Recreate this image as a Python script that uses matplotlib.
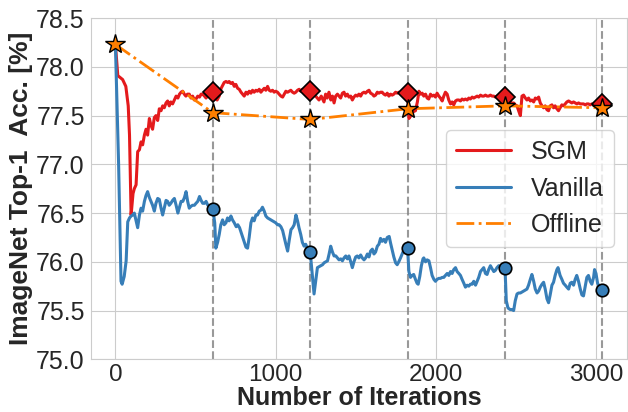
import matplotlib
matplotlib.use("Agg")
import matplotlib.pyplot as plt
import seaborn as sns

# checkpoints (end of each stage)
stages = [608, 1216, 1824, 2432, 3040]

# SGM accuracy curve (iteration, acc)
sgm_it = [0, 15, 45, 65, 80, 88, 98, 110, 118, 129, 135, 139, 150, 160, 170, 181, 191, 201, 212, 222,
          232, 243, 253, 264, 274, 285, 295, 305, 316, 326, 336, 346, 357, 368, 379, 390, 400, 410, 420, 430,
          440, 450, 461, 472, 482, 493, 503, 514, 525, 535, 545, 556, 566, 577, 587, 597, 608,
          620, 635, 648, 660, 679, 690, 700, 710, 720, 731, 742, 752, 763, 773, 784, 794, 804, 815, 825,
          835, 846, 856, 866, 877, 887, 898, 908, 918, 929, 939, 950, 960, 970, 981, 991, 1001, 1012, 1022,
          1033, 1044, 1054, 1064, 1075, 1085, 1095, 1106, 1116, 1126, 1137, 1147, 1157, 1167, 1178, 1188,
          1198, 1216,
          1230, 1250, 1271, 1285, 1302, 1312, 1322, 1333, 1345, 1355, 1365, 1375, 1386, 1396, 1406, 1417,
          1427, 1437, 1448, 1458, 1469, 1479, 1489, 1500, 1510, 1520, 1531, 1541, 1552, 1562, 1573, 1583,
          1593, 1604, 1614, 1624, 1635, 1645, 1655, 1665, 1676, 1686, 1697, 1707, 1718, 1728, 1738, 1749,
          1759, 1769, 1780, 1790, 1800, 1811, 1824,
          1832, 1845, 1860, 1873, 1885, 1895, 1905, 1915, 1925, 1936, 1946, 1956, 1967, 1977, 1988, 1998,
          2008, 2019, 2029, 2040, 2050, 2060, 2071, 2081, 2092, 2102, 2112, 2123, 2133, 2144, 2154, 2164,
          2175, 2185, 2196, 2206, 2216, 2227, 2237, 2248, 2258, 2268, 2279, 2289, 2300, 2310, 2320, 2330,
          2341, 2351, 2362, 2372, 2382, 2393, 2403, 2414, 2432,
          2445, 2455, 2465, 2475, 2486, 2496, 2507, 2517, 2528, 2538, 2548, 2559, 2569, 2579, 2590, 2600,
          2611, 2621, 2632, 2642, 2652, 2663, 2673, 2683, 2694, 2704, 2714, 2725, 2735, 2745, 2756, 2766,
          2776, 2787, 2797, 2808, 2818, 2829, 2839, 2849, 2860, 2870, 2881, 2891, 2902, 2912, 2922, 2933,
          2943, 2953, 2964, 2974, 2985, 2995, 3005, 3016, 3040]
sgm_acc = [78.23, 77.91, 77.87, 77.80, 77.60, 77.30, 76.48, 76.70, 76.75, 76.79, 77.00, 77.13, 77.15, 77.23,
           77.20, 77.30, 77.36, 77.30, 77.47, 77.40, 77.36, 77.48, 77.50, 77.45, 77.57, 77.55, 77.60, 77.58,
           77.63, 77.65, 77.60, 77.64, 77.62, 77.66, 77.70, 77.68, 77.72, 77.74, 77.75, 77.72, 77.70, 77.72,
           77.72, 77.68, 77.70, 77.66, 77.67, 77.70, 77.69, 77.72, 77.72, 77.70, 77.68, 77.71, 77.70, 77.73,
           77.74,
           77.68, 77.66, 77.70, 77.78, 77.84, 77.85, 77.84, 77.85, 77.83, 77.84, 77.80, 77.82, 77.78, 77.77,
           77.74, 77.72, 77.70, 77.74, 77.72, 77.75, 77.73, 77.76, 77.74, 77.76, 77.75, 77.77, 77.74, 77.76,
           77.78, 77.76, 77.80, 77.76, 77.75, 77.76, 77.74, 77.75, 77.74, 77.72, 77.70, 77.69, 77.72, 77.75,
           77.74, 77.75, 77.76, 77.74, 77.73, 77.74, 77.76, 77.77, 77.75, 77.77, 77.76, 77.75, 77.74, 77.75,
           77.72, 77.70, 77.66, 77.70, 77.64, 77.72, 77.68, 77.74, 77.66, 77.70, 77.63, 77.70, 77.72, 77.70,
           77.68, 77.73, 77.74, 77.70, 77.72, 77.69, 77.70, 77.66, 77.69, 77.71, 77.70, 77.72, 77.70, 77.73,
           77.74, 77.73, 77.75, 77.76, 77.73, 77.72, 77.70, 77.71, 77.74, 77.73, 77.74, 77.74, 77.72, 77.71,
           77.73, 77.70, 77.72, 77.71, 77.72, 77.74, 77.73, 77.74, 77.72, 77.73, 77.71, 77.72, 77.73,
           77.47, 77.50, 77.54, 77.55, 77.64, 77.75, 77.72, 77.73, 77.70, 77.72, 77.68, 77.67, 77.72, 77.70,
           77.71, 77.69, 77.73, 77.70, 77.68, 77.65, 77.70, 77.74, 77.72, 77.66, 77.62, 77.64, 77.61, 77.65,
           77.66, 77.66, 77.65, 77.67, 77.66, 77.67, 77.66, 77.68, 77.67, 77.69, 77.68, 77.69, 77.70, 77.69,
           77.71, 77.70, 77.70, 77.71, 77.70, 77.70, 77.71, 77.70, 77.70, 77.69, 77.70, 77.69, 77.70, 77.71,
           77.69,
           77.66, 77.64, 77.65, 77.62, 77.63, 77.61, 77.60, 77.55, 77.50, 77.70, 77.71, 77.68, 77.66, 77.68,
           77.65, 77.66, 77.64, 77.68, 77.67, 77.69, 77.63, 77.60, 77.58, 77.60, 77.56, 77.55, 77.60, 77.61,
           77.58, 77.60, 77.57, 77.55, 77.58, 77.61, 77.60, 77.62, 77.64, 77.65, 77.64, 77.63, 77.64, 77.63,
           77.62, 77.63, 77.62, 77.62, 77.62, 77.61, 77.62, 77.62, 77.61, 77.62, 77.61, 77.61, 77.62, 77.63,
           77.62]

# Vanilla fine-tuning curve
van_it = [0, 20, 35, 42, 55, 67, 77, 88, 98, 108, 118, 129, 139, 150, 160, 170, 181, 191, 201, 212,
          222, 232, 243, 253, 264, 274, 285, 295, 305, 316, 326, 336, 346, 357, 368, 379, 390, 400, 410, 421,
          431, 441, 451, 461, 472, 482, 493, 503, 514, 525, 535, 545, 556, 566, 577, 587, 597, 608,
          620, 627, 638, 648, 658, 669, 679, 690, 700, 710, 721, 731, 742, 754, 764, 775, 785, 795, 805, 815,
          825, 835, 846, 856, 866, 877, 887, 898, 908, 918, 929, 939, 950, 960, 970, 981, 991, 1001, 1012,
          1022, 1033, 1044, 1054, 1064, 1075, 1085, 1096, 1106, 1116, 1127, 1137, 1146, 1157, 1167, 1178,
          1188, 1198, 1216,
          1230, 1240, 1250, 1261, 1271, 1282, 1293, 1303, 1314, 1324, 1334, 1344, 1355, 1365, 1376, 1386,
          1396, 1407, 1417, 1427, 1438, 1448, 1458, 1469, 1479, 1489, 1500, 1510, 1520, 1531, 1541, 1552,
          1562, 1573, 1583, 1593, 1604, 1614, 1624, 1635, 1645, 1655, 1665, 1676, 1686, 1697, 1709, 1718,
          1728, 1738, 1749, 1759, 1769, 1780, 1790, 1800, 1811, 1824,
          1832, 1842, 1852, 1862, 1873, 1883, 1890, 1900, 1910, 1920, 1925, 1936, 1946, 1957, 1967, 1977,
          1988, 1998, 2008, 2019, 2029, 2040, 2050, 2060, 2071, 2081, 2092, 2102, 2112, 2123, 2133, 2144,
          2154, 2164, 2175, 2185, 2196, 2206, 2216, 2227, 2237, 2248, 2258, 2268, 2279, 2289, 2299, 2310,
          2320, 2330, 2341, 2351, 2362, 2371, 2382, 2393, 2403, 2414, 2432,
          2440, 2450, 2455, 2465, 2475, 2486, 2496, 2507, 2517, 2528, 2538, 2548, 2559, 2569, 2579, 2590,
          2600, 2611, 2621, 2632, 2642, 2652, 2663, 2673, 2683, 2694, 2704, 2714, 2725, 2735, 2745, 2756,
          2763, 2776, 2787, 2797, 2808, 2818, 2829, 2839, 2849, 2860, 2870, 2880, 2891, 2902, 2912, 2922,
          2933, 2943, 2953, 2964, 2974, 2985, 2991, 3000, 3010, 3020, 3030, 3040]
van_acc = [78.23, 77.00, 75.80, 75.77, 75.85, 76.01, 76.41, 76.45, 76.47, 76.48, 76.50, 76.42, 76.35, 76.48,
           76.55, 76.52, 76.62, 76.68, 76.72, 76.66, 76.62, 76.58, 76.52, 76.60, 76.65, 76.64, 76.55, 76.48,
           76.55, 76.63, 76.62, 76.58, 76.60, 76.63, 76.65, 76.58, 76.50, 76.56, 76.62, 76.62, 76.66, 76.72,
           76.62, 76.55, 76.57, 76.58, 76.58, 76.60, 76.62, 76.67, 76.63, 76.60, 76.60, 76.62, 76.58, 76.56,
           76.55, 76.54,
           76.40, 76.14, 76.20, 76.28, 76.38, 76.43, 76.38, 76.40, 76.45, 76.42, 76.47, 76.43, 76.40, 76.36,
           76.38, 76.35, 76.30, 76.25, 76.20, 76.15, 76.14, 76.25, 76.40, 76.45, 76.42, 76.48, 76.48, 76.52,
           76.53, 76.56, 76.52, 76.47, 76.45, 76.44, 76.43, 76.42, 76.41, 76.40, 76.38, 76.38, 76.36, 76.32,
           76.25, 76.18, 76.11, 76.22, 76.33, 76.35, 76.38, 76.48, 76.42, 76.35, 76.28, 76.20, 76.16, 76.18,
           76.14, 76.10,
           75.85, 75.67, 75.80, 75.94, 75.95, 75.96, 75.97, 75.99, 76.00, 76.01, 76.08, 76.16, 76.10, 76.06,
           76.06, 76.04, 76.02, 76.03, 76.01, 76.04, 76.06, 76.03, 76.06, 76.00, 75.94, 76.00, 76.05, 76.06,
           76.04, 76.07, 76.04, 76.02, 76.04, 76.08, 76.05, 76.11, 76.13, 76.08, 76.10, 76.16, 76.18, 76.24,
           76.21, 76.23, 76.20, 76.25, 76.26, 76.19, 76.12, 76.05, 75.99, 75.97, 76.00, 76.04, 76.08, 76.12,
           76.14, 76.14,
           75.90, 75.84, 75.86, 75.87, 75.82, 75.78, 75.77, 75.85, 75.96, 76.03, 76.04, 76.00, 76.02, 76.01,
           75.94, 75.86, 75.82, 75.80, 75.82, 75.83, 75.83, 75.84, 75.84, 75.86, 75.88, 75.86, 75.90, 75.88,
           75.92, 75.94, 75.90, 75.88, 75.86, 75.82, 75.78, 75.74, 75.76, 75.75, 75.77, 75.77, 75.80, 75.76,
           75.80, 75.84, 75.90, 75.92, 75.94, 75.88, 75.87, 75.92, 75.96, 75.93, 75.90, 75.91, 75.94, 75.96,
           75.94, 75.95, 75.94,
           75.60, 75.53, 75.52, 75.51, 75.51, 75.50, 75.60, 75.67, 75.68, 75.68, 75.69, 75.70, 75.71, 75.72,
           75.76, 75.82, 75.87, 75.80, 75.72, 75.68, 75.70, 75.74, 75.77, 75.79, 75.72, 75.62, 75.58, 75.66,
           75.76, 75.79, 75.86, 75.92, 75.94, 75.86, 75.82, 75.78, 75.76, 75.74, 75.72, 75.78, 75.79, 75.76,
           75.82, 75.86, 75.80, 75.72, 75.66, 75.65, 75.75, 75.84, 75.86, 75.80, 75.77, 75.84, 75.92, 75.88,
           75.78, 75.75, 75.73, 75.71]

# checkpoint markers
sgm_ckpt = [77.74, 77.75, 77.73, 77.69, 77.62]
van_ckpt = [76.54, 76.10, 76.14, 75.94, 75.71]
off_it = [0, 608, 1216, 1824, 2432, 3040]
off_acc = [78.23, 77.53, 77.46, 77.57, 77.60, 77.58]
yticks = [75.0, 75.5, 76.0, 76.5, 77.0, 77.5, 78.0, 78.5]

sns.set_style("whitegrid")
plt.rcParams['font.family'] = ['Liberation Sans', 'DejaVu Sans']

red = '#e41a1c'
blue = '#377eb8'
orange = '#ff7f00'

fig = plt.figure(figsize=(6.28, 4.12), dpi=100)
ax = fig.add_axes([0.145, 0.128, 0.853, 0.828])

for s in stages:
    ax.axvline(s, color='gray', ls='--', lw=1.5, alpha=0.8, zorder=1.5)

ax.plot(sgm_it, sgm_acc, color=red, lw=2.2, label='SGM', zorder=3)
ax.plot(van_it, van_acc, color=blue, lw=2.2, label='Vanilla', zorder=3)
ax.plot(stages, sgm_ckpt, ls='none', marker='D', ms=10, color=red, mec='black', mew=1.2, zorder=4)
ax.plot(stages, van_ckpt, ls='none', marker='o', ms=9, color=blue, mec='black', mew=1.2, zorder=4)
ax.plot(off_it, off_acc, color=orange, ls='-.', lw=2, label='Offline', zorder=5)
ax.plot(off_it, off_acc, ls='none', marker='*', ms=15, mfc=orange, mec='black', mew=1.0, zorder=6)

ax.set_ylim(75.0, 78.5)
ax.set_yticks(yticks)
ax.set_yticklabels(['%.1f' % v for v in yticks])
ax.set_xticks([0, 1000, 2000, 3000])
ax.tick_params(axis='y', labelsize=18, pad=1)
ax.tick_params(axis='x', labelsize=17.5, pad=0)
ax.set_xlabel('Number of Iterations', fontsize=18, fontweight='bold', labelpad=0)
ax.set_ylabel('ImageNet Top-1  Acc. [%]', fontsize=19, fontweight='bold', labelpad=2)

ax.legend(loc='center right', fontsize=18, handlelength=2.2)

fig.savefig('out.png', dpi=100)
